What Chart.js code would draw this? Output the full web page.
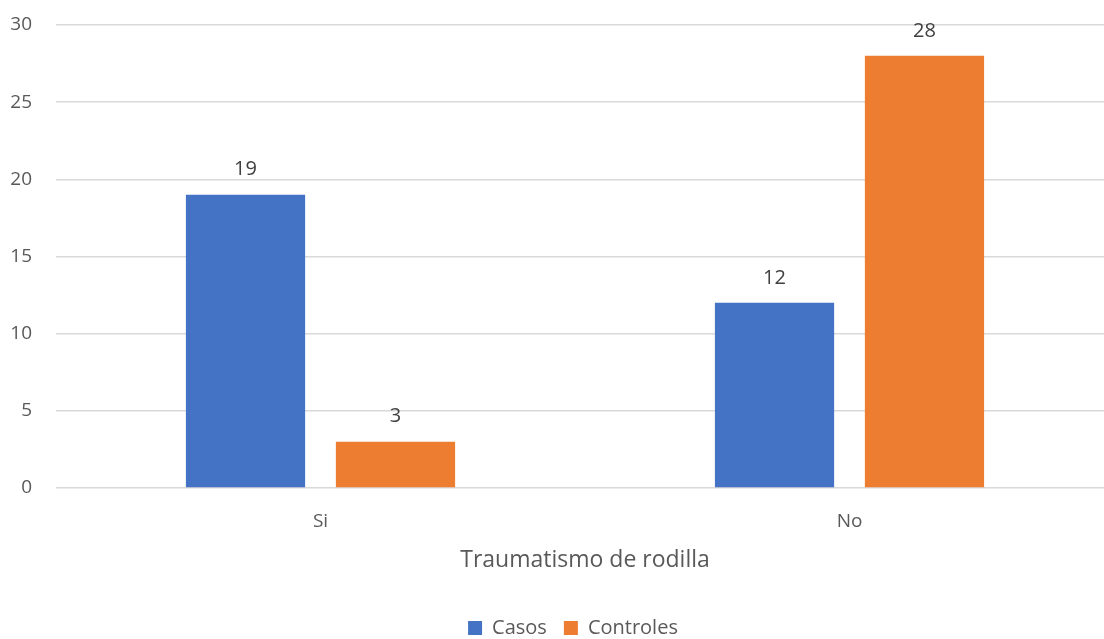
<!DOCTYPE html>
<html>
<head>
<meta charset="utf-8">
<script src="https://cdn.jsdelivr.net/npm/chart.js@4"></script>
<style>
  html, body { margin: 0; padding: 0; background: #fff; overflow: hidden; }
  #wrap { width: 1104px; height: 639px; }
</style>
</head>
<body>
<div id="wrap"><canvas id="c" width="1104" height="639"></canvas></div>
<script>
const categories = ['Si', 'No'];
const casos = [19, 12];
const controles = [3, 28];
const yTicks = [0, 5, 10, 15, 20, 25, 30];

const textColor = '#595959';
const fontFamily = '"Open Sans", Lato, sans-serif';

// draws each bar's value centred above it
const valueLabels = {
  id: 'valueLabels',
  afterDatasetsDraw(chart) {
    const ctx = chart.ctx;
    ctx.save();
    ctx.font = '20px ' + fontFamily;
    ctx.fillStyle = '#404040';
    ctx.textAlign = 'center';
    ctx.textBaseline = 'middle';
    chart.data.datasets.forEach((ds, i) => {
      chart.getDatasetMeta(i).data.forEach((bar, j) => {
        ctx.fillText(String(ds.data[j]), bar.x, bar.y - 25);
      });
    });
    ctx.restore();
  }
};

// the category axis runs a little past the right edge of the canvas,
// and the legend row sits slightly right of centre
const layoutTweaks = {
  id: 'layoutTweaks',
  afterLayout(chart) {
    const x = chart.scales.x;
    x.right = x.right + 10;
    x.width = x.right - x.left;
    x.configure();
    if (chart.legend) {
      chart.legend.left += 21;
      chart.legend.right += 21;
    }
  }
};

new Chart(document.getElementById('c'), {
  type: 'bar',
  data: {
    labels: categories,
    datasets: [
      { label: 'Casos', data: casos, backgroundColor: '#4472C4' },
      { label: 'Controles', data: controles, backgroundColor: '#ED7D31' }
    ]
  },
  options: {
    responsive: false,
    animation: false,
    layout: { padding: { top: 25, right: 0, left: 0, bottom: -9 } },
    datasets: { bar: { categoryPercentage: 0.567, barPercentage: 0.795 } },
    plugins: {
      legend: {
        position: 'bottom',
        labels: {
          color: textColor,
          font: { family: fontFamily, size: 20 },
          boxWidth: 14, boxHeight: 14,
          padding: 17
        }
      },
      tooltip: { enabled: false }
    },
    scales: {
      x: {
        grid: { display: false },
        border: { display: false },
        ticks: { color: textColor, font: { family: fontFamily, size: 19 }, padding: 14 },
        title: {
          display: true,
          text: 'Traumatismo de rodilla',
          color: textColor,
          font: { family: fontFamily, size: 23 },
          padding: { top: 0, bottom: 27 }
        },
        afterFit(scale) {
          scale.height = 113;
          scale.paddingLeft = 0;
          scale.paddingRight = 0;
        }
      },
      y: {
        min: 0, max: 30,
        afterBuildTicks(scale) { scale.ticks = yTicks.map(v => ({ value: v })); },
        grid: { color: '#D9D9D9', lineWidth: 1.5, drawTicks: false },
        border: { display: false },
        ticks: { color: textColor, font: { family: fontFamily, size: 19 }, padding: 24 },
        afterFit(scale) {
          scale.width = 56;
          scale.paddingTop = 0;
          scale.paddingBottom = 0;
        }
      }
    }
  },
  plugins: [valueLabels, layoutTweaks]
});
</script>
</body>
</html>
